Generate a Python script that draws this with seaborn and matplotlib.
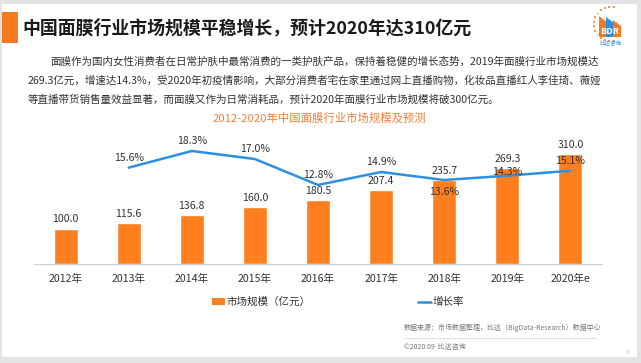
import matplotlib
matplotlib.use('Agg')
import matplotlib.pyplot as plt
import seaborn as sns
import numpy as np
import pandas as pd
from matplotlib.patches import Rectangle, Polygon
from matplotlib.lines import Line2D
from matplotlib.transforms import Affine2D

# ---------------- data ----------------
years = ['2012年', '2013年', '2014年', '2015年', '2016年', '2017年', '2018年', '2019年', '2020年e']
market_size = [100.0, 115.6, 136.8, 160.0, 180.5, 207.4, 235.7, 269.3, 310.0]
growth_years = ['2013年', '2014年', '2015年', '2016年', '2017年', '2018年', '2019年', '2020年e']
growth_rate = [15.6, 18.3, 17.0, 12.8, 14.9, 13.6, 14.3, 15.1]

title = '中国面膜行业市场规模平稳增长，预计2020年达310亿元'
para = [
    '面膜作为国内女性消费者在日常护肤中最常消费的一类护肤产品，保持着稳健的增长态势，2019年面膜行业市场规模达',
    '269.3亿元，增速达14.3%，受2020年初疫情影响，大部分消费者宅在家里通过网上直播购物，化妆品直播红人李佳琦、薇娅',
    '等直播带货销售量效益显著，而面膜又作为日常消耗品，预计2020年面膜行业市场规模将破300亿元。',
]
chart_title = '2012-2020年中国面膜行业市场规模及预测'
legend_labels = ['市场规模（亿元）', '增长率']
source_text = '数据来源：市场数据整理，比达（BigData-Research）数据中心'
copyright_text = '©2020.09  比达咨询'

# label offsets (points) for growth-rate labels
pct_offsets = [7, 7, 7, 7, 7, -8.5, 3, 7]

BAR_C = '#FF7F1E'
LINE_C = '#2E8FE3'
TXT_C = '#333333'

sns.set_theme(style='white')
plt.rcParams['font.family'] = ['Noto Sans CJK SC', 'DejaVu Sans']
plt.rcParams['axes.unicode_minus'] = False

W, H = 641, 363
fig = plt.figure(figsize=(W / 100, H / 100), dpi=100)
fig.patch.set_facecolor('#e4e4e4')
pix = Affine2D().scale(1 / W, -1 / H).translate(0, 1) + fig.transFigure

# white page
fig.add_artist(Rectangle((2, 4), 635, 353, transform=pix, facecolor='white',
                         edgecolor='none', zorder=-10))
# orange block
fig.add_artist(Rectangle((2, 12), 16, 31, transform=pix, facecolor='#F47B20',
                         edgecolor='none'))
fig.text(22 / W, 1 - 28 / H, title, fontsize=12.9, fontweight='bold',
         va='center', ha='left', color='#1a1a1a')

# logo
th = np.linspace(np.pi * 0.45, np.pi * 1.55, 14)
lx, ly = 611, 24
for t in th:
    fig.add_artist(Rectangle((lx + 17 * np.cos(t) - 0.9, ly - 17 * np.sin(t) - 0.9), 1.8, 1.8,
                             transform=pix, facecolor='#F39A4A', edgecolor='none'))
fig.add_artist(Polygon([(599, 37), (599, 16), (607, 22), (607, 37)], closed=True,
                       transform=pix, facecolor='#F47B20', edgecolor='none'))
fig.add_artist(Polygon([(606, 37), (606, 17), (614, 23), (614, 37)], closed=True,
                       transform=pix, facecolor='#2F8FE0', edgecolor='none'))
fig.add_artist(Polygon([(613, 37), (613, 20), (621, 26), (621, 37)], closed=True,
                       transform=pix, facecolor='#F47B20', edgecolor='none'))
fig.text(610 / W, 1 - 31 / H, 'BDR', fontsize=6.5, fontweight='bold', color='white',
         ha='center', va='center')
fig.text(611 / W, 1 - 42 / H, '比达咨询', fontsize=4, color='#2F8FE0',
         ha='center', va='center')

# paragraph
fig.text(50 / W, 1 - 62 / H, para[0], fontsize=7.6, color=TXT_C, va='center', ha='left')
fig.text(28 / W, 1 - 81 / H, para[1], fontsize=7.6, color=TXT_C, va='center', ha='left')
fig.text(28 / W, 1 - 100 / H, para[2], fontsize=7.6, color=TXT_C, va='center', ha='left')

# chart title
fig.text(319 / W, 1 - 118 / H, chart_title, fontsize=8.2, color='#F0803C',
         ha='center', va='center')

# ---------------- chart ----------------
ax = fig.add_axes([34 / W, 1 - 264 / H, 568 / W, 134 / H])
ax.set_facecolor('none')
sns.barplot(x=years, y=market_size, ax=ax, color=BAR_C, saturation=1, width=0.38)
ax.set_ylim(0, 377.5)
ax.set_xlim(-0.5, len(years) - 0.5)
for s in ['top', 'right', 'left']:
    ax.spines[s].set_visible(False)
ax.spines['bottom'].set_color('#d0d0d0')
ax.spines['bottom'].set_linewidth(0.8)
ax.set_yticks([])
ax.set_ylabel('')
ax.set_xlabel('')
ax.set_xticks(range(len(years)))
ax.set_xticklabels(years, fontsize=7.6, color=TXT_C)
ax.set_xticks(np.arange(-0.5, len(years)), minor=True)
ax.tick_params(axis='x', which='major', length=0, pad=7)
ax.tick_params(axis='x', which='minor', length=4, color='#d0d0d0', width=0.8, direction='out')
for i, v in enumerate(market_size):
    ax.annotate(f'{v:.1f}', (i, v), xytext=(0, 6.5), textcoords='offset points',
                ha='center', va='center', fontsize=7.6, color=TXT_C)

ax2 = ax.twinx()
gx = [years.index(y) for y in growth_years]
sns.lineplot(x=gx, y=growth_rate, ax=ax2, color=LINE_C, linewidth=1.8, legend=False)
ax2.set_ylim(0, 21.7)
ax2.set_xlim(-0.5, len(years) - 0.5)
ax2.axis('off')
for x, v, off in zip(gx, growth_rate, pct_offsets):
    ax2.annotate(f'{v:.1f}%', (x, v), xytext=(0, off), textcoords='offset points',
                 ha='center', va='center', fontsize=7.6, color=TXT_C)

# legend
handles = [Rectangle((0, 0), 1, 1, facecolor=BAR_C, edgecolor='none'),
           Line2D([0], [0], color=LINE_C, linewidth=1.8)]
fig.legend(handles, legend_labels, loc='center', bbox_to_anchor=(338 / W, 1 - 302 / H),
           ncol=2, frameon=False, fontsize=7.6, handlelength=1.2, handleheight=0.55,
           columnspacing=10.2, handletextpad=0.15, labelcolor=TXT_C)

# source
fig.text(404 / W, 1 - 328 / H, source_text, fontsize=5.0, color='#777777', va='center')
fig.add_artist(Line2D([404, 597], [338, 338], transform=pix, color='#c8c8c8',
                      linewidth=0.6, linestyle=(0, (2, 1))))
fig.text(404 / W, 1 - 347 / H, copyright_text, fontsize=5.0, color='#777777', va='center')
fig.text(628 / W, 1 - 352 / H, '8', fontsize=5, color='#cccccc', va='center', ha='center')

fig.savefig('out.png', dpi=100, facecolor=fig.get_facecolor())
